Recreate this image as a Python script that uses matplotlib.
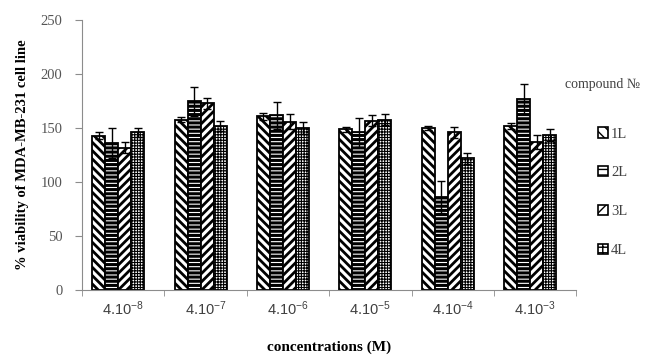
import matplotlib

matplotlib.use('Agg')
import matplotlib.pyplot as plt
import matplotlib.patches as mpatches
import numpy as np

concentrations = ['4.10$^{-8}$', '4.10$^{-7}$', '4.10$^{-6}$',
                  '4.10$^{-5}$', '4.10$^{-4}$', '4.10$^{-3}$']
compounds = ['1L', '2L', '3L', '4L']

viability_1L = [143, 158, 161, 149, 150, 152]
viability_2L = [136, 175, 162, 146, 86, 177]
viability_3L = [132, 173, 156, 157, 146, 137]
viability_4L = [146, 152, 150, 158, 122, 144]

err_1L = [3, 2.5, 3, 2.5, 2, 2.5]
err_2L = [14, 13.5, 12.5, 13.5, 15, 14]
err_3L = [5, 5, 7, 5, 5.5, 6.5]
err_4L = [4, 5, 5.5, 5.5, 5, 5.5]

values = [viability_1L, viability_2L, viability_3L, viability_4L]
errors = [err_1L, err_2L, err_3L, err_4L]
hatches = ['\\' * 4, '-' * 4, '/' * 4, '+' * 6]
hatch_widths = [2.0, 2.2, 2.0, 0.8]

plt.rcParams['mathtext.fontset'] = 'custom'
plt.rcParams['mathtext.rm'] = 'Liberation Sans'
plt.rcParams['mathtext.default'] = 'regular'

grey = '#8c8c8c'

fig = plt.figure(figsize=(6.46, 3.57), dpi=100)
ax = fig.add_axes([0.127, 0.188, 0.765, 0.755])

x = np.arange(len(concentrations))
bar_w = 0.158
shift = -0.06

for i, comp in enumerate(compounds):
    pos = x + shift + (i - 1.5) * bar_w
    with plt.rc_context({'hatch.linewidth': hatch_widths[i]}):
        bars = ax.bar(pos, values[i], bar_w, color='white', edgecolor='black',
                      linewidth=1.3, hatch=hatches[i], label=comp, zorder=2)
        for b in bars:
            if hasattr(b, 'set_hatch_linewidth'):
                b.set_hatch_linewidth(hatch_widths[i])
    ax.errorbar(pos, values[i], yerr=errors[i], fmt='none', ecolor='black',
                elinewidth=1, capsize=3, capthick=1, zorder=3)

ax.set_xlim(-0.5, len(concentrations) - 0.5)
ax.set_ylim(0, 250)
ax.set_yticks([0, 50, 100, 150, 200, 250])

ax.set_xticks(x)
ax.set_xticklabels(concentrations, fontsize=10.5, family='Liberation Sans',
                   color='#404040')
ax.set_xticks(np.arange(-0.5, len(concentrations)), minor=True)
ax.tick_params(axis='x', which='major', length=0, pad=7)
ax.tick_params(axis='x', which='minor', length=4, color=grey, direction='out')
ax.tick_params(axis='y', length=5, color=grey, direction='out', pad=9,
               labelsize=10.5, labelcolor='#555555')
for lab in ax.get_yticklabels():
    lab.set_family('Liberation Serif')

for s in ['top', 'right']:
    ax.spines[s].set_visible(False)
ax.spines['left'].set_color(grey)
ax.spines['bottom'].set_color(grey)

ax.set_ylabel('% viability of MDA-MB-231 cell line', family='Liberation Serif',
              fontweight='bold', fontsize=10.5, labelpad=8)
ax.set_xlabel('concentrations (M)', family='Liberation Serif',
              fontweight='bold', fontsize=11, labelpad=16)

handles = []
for i, comp in enumerate(compounds):
    with plt.rc_context({'hatch.linewidth': 1.2}):
        handles.append(mpatches.Patch(facecolor='white', edgecolor='black',
                                      linewidth=1.2, hatch=hatches[i][0] * 3,
                                      label=comp))

fig.text(0.932, 0.762, 'compound №', family=['Liberation Serif', 'DejaVu Serif'],
         fontsize=10, color='#404040', ha='center', va='center')
fig.legend(handles=handles, loc='upper left', bbox_to_anchor=(0.905, 0.68),
           frameon=False, handlelength=0.7, handleheight=0.7,
           handletextpad=0.2, labelspacing=1.75, labelcolor='#404040',
           prop={'family': 'Liberation Serif', 'size': 10.5})

fig.savefig('out.png', dpi=100)
